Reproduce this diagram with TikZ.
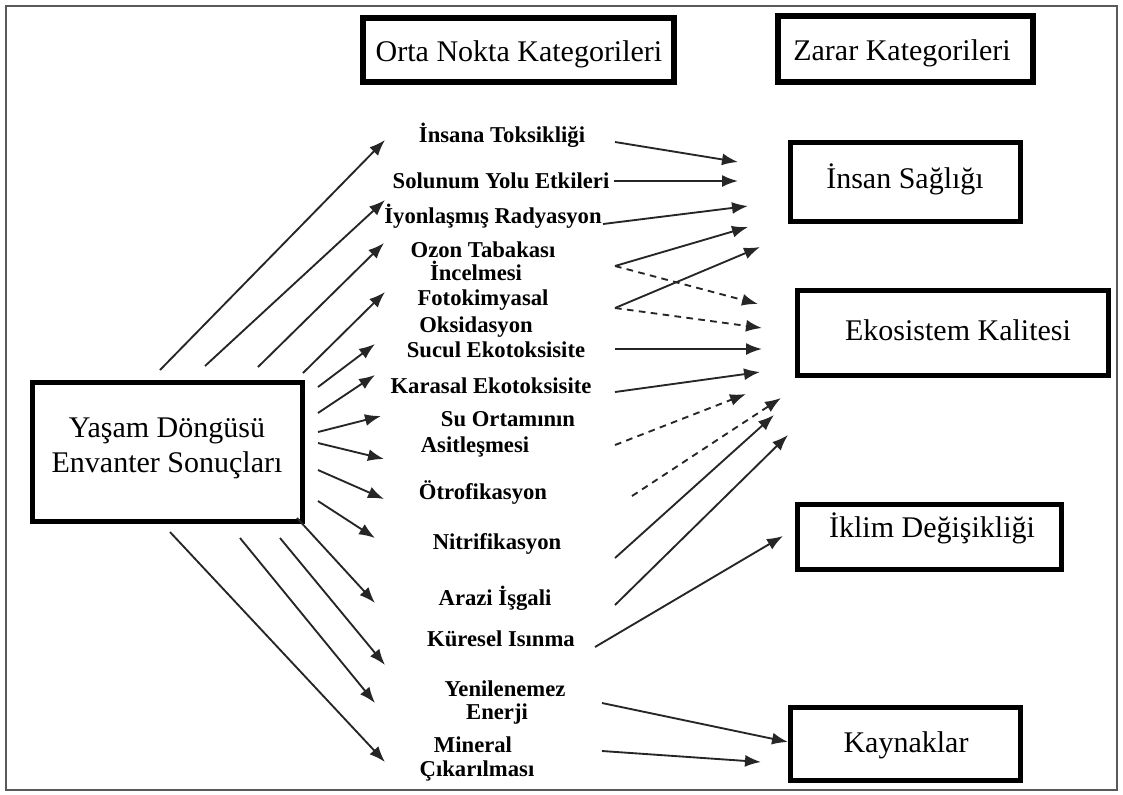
\documentclass[tikz,border=0pt]{standalone}
\usepackage{fontspec}
\setmainfont{Liberation Serif}
\usetikzlibrary{arrows.meta}
\begin{document}
\begin{tikzpicture}[x=0.75pt,y=-0.75pt,
  hbox/.style={draw=black, line width=4.5pt, rectangle, inner sep=0pt},
  dbox/.style={draw=black, line width=3.75pt, rectangle, inner sep=0pt},
  hdr/.style={anchor=base, inner sep=0pt, font=\fontsize{22.5}{26}\selectfont},
  lbl/.style={anchor=base, inner sep=0pt, font=\fontsize{17}{19}\selectfont\bfseries},
  arr/.style={draw=black!85, line width=1.4pt, -{Latex[length=12pt,width=9pt]}},
  darr/.style={arr, dash pattern=on 5pt off 4pt}
]
\useasboundingbox (0,0) rectangle (1123,794);
% outer frame
\draw[black!65, line width=1.1pt] (6,6) rectangle (1117,790);

% boxes
\node[hbox, minimum width=311*0.75pt, minimum height=64*0.75pt] (orta) at (518.5,50) {};
\node[hbox, minimum width=255*0.75pt, minimum height=66*0.75pt] (zarar) at (905.5,49) {};
\node[dbox, minimum width=230*0.75pt, minimum height=79*0.75pt] (insan) at (905.5,182) {};
\node[dbox, minimum width=311*0.75pt, minimum height=85*0.75pt] (eko) at (953,333) {};
\node[dbox, minimum width=264*0.75pt, minimum height=65*0.75pt] (iklim) at (929.5,537) {};
\node[dbox, minimum width=230*0.75pt, minimum height=73*0.75pt] (kaynak) at (905.5,744) {};
\node[dbox, minimum width=270*0.75pt, minimum height=139*0.75pt] (yasam) at (167.5,452) {};

% box texts
\node[hdr] (ortaT) at (519,61) {Orta Nokta Kategorileri};
\node[hdr] (zararT) at (902,60) {Zarar Kategorileri};
\node[hdr] (insanT) at (905,188) {İnsan Sağlığı};
\node[hdr] (ekoT) at (958,340) {Ekosistem Kalitesi};
\node[hdr] (iklimT) at (932,537) {İklim Değişikliği};
\node[hdr] (kaynakT) at (906,752) {Kaynaklar};
\node[hdr] (yasamA) at (167,437) {Yaşam Döngüsü};
\node[hdr] (yasamB) at (167,472) {Envanter Sonuçları};

% midpoint category labels
\node[lbl] (toks) at (502,142) {İnsana Toksikliği};
\node[lbl] (solu) at (501,188) {Solunum Yolu Etkileri};
\node[lbl] (iyon) at (493,223) {İyonlaşmış Radyasyon};
\node[lbl] (ozonA) at (483,257) {Ozon Tabakası};
\node[lbl] (ozonB) at (476,280) {İncelmesi};
\node[lbl] (fotoA) at (483,305) {Fotokimyasal};
\node[lbl] (fotoB) at (476,332) {Oksidasyon};
\node[lbl] (sucul) at (496,357) {Sucul Ekotoksisite};
\node[lbl] (kara) at (491,393) {Karasal Ekotoksisite};
\node[lbl] (suA) at (508,426) {Su Ortamının};
\node[lbl] (suB) at (475,452) {Asitleşmesi};
\node[lbl] (otro) at (483,499) {Ötrofikasyon};
\node[lbl] (nitr) at (497,549) {Nitrifikasyon};
\node[lbl] (arazi) at (495,605) {Arazi İşgali};
\node[lbl] (kures) at (501,646) {Küresel Isınma};
\node[lbl] (yeniA) at (505,696) {Yenilenemez};
\node[lbl] (yeniB) at (497,719) {Enerji};
\node[lbl] (minA) at (473,752) {Mineral};
\node[lbl] (minB) at (477,776) {Çıkarılması};

% arrow end points: inventory -> midpoint categories
\coordinate (s1) at (160,370);  \coordinate (e1) at (385,140);
\coordinate (s2) at (205,366);  \coordinate (e2) at (385,200);
\coordinate (s3) at (258,367);  \coordinate (e3) at (384,243);
\coordinate (s4) at (303,373);  \coordinate (e4) at (385,292);
\coordinate (s5) at (318,387);  \coordinate (e5) at (375,344);
\coordinate (s6) at (318,413);  \coordinate (e6) at (375,375);
\coordinate (s7) at (318,432);  \coordinate (e7) at (381,416);
\coordinate (s8) at (318,443);  \coordinate (e8) at (384,459);
\coordinate (s9) at (318,470);  \coordinate (e9) at (384,499);
\coordinate (s10) at (318,501); \coordinate (e10) at (375,538);
\coordinate (s11) at (297,518); \coordinate (e11) at (375,603);
\coordinate (s12) at (280,538); \coordinate (e12) at (385,665);
\coordinate (s13) at (240,538); \coordinate (e13) at (375,703);
\coordinate (s14) at (170,532); \coordinate (e14) at (385,762);

\foreach \i in {1,...,14} \draw[arr] (s\i) -- (e\i);

% arrow end points: midpoint categories -> damage categories
\coordinate (r1s) at (615,142);  \coordinate (r1e) at (738,162);
\coordinate (r2s) at (614,181);  \coordinate (r2e) at (738,181);
\coordinate (r3s) at (603,224);  \coordinate (r3e) at (748,206);
\coordinate (ozo) at (615,266);  \coordinate (r4e) at (748,227);
\coordinate (fot) at (615,308);  \coordinate (r5e) at (760,247);
\coordinate (r6e) at (758,304);
\coordinate (r7e) at (762,328);
\coordinate (r8s) at (615,349);  \coordinate (r8e) at (762,349);
\coordinate (r9s) at (615,392);  \coordinate (r9e) at (760,372);
\coordinate (r10s) at (615,445); \coordinate (r10e) at (746,394);
\coordinate (r11s) at (632,496); \coordinate (r11e) at (781,398);
\coordinate (r12s) at (615,558); \coordinate (r12e) at (774,415);
\coordinate (r13s) at (615,605); \coordinate (r13e) at (788,435);
\coordinate (r14s) at (595,647); \coordinate (r14e) at (783,536);
\coordinate (r15s) at (602,703); \coordinate (r15e) at (788,742);
\coordinate (r16s) at (602,751); \coordinate (r16e) at (761,762);

\draw[arr] (r1s) -- (r1e);
\draw[arr] (r2s) -- (r2e);
\draw[arr] (r3s) -- (r3e);
\draw[arr] (ozo) -- (r4e);
\draw[arr] (fot) -- (r5e);
\draw[darr] (ozo) -- (r6e);
\draw[darr] (fot) -- (r7e);
\draw[arr] (r8s) -- (r8e);
\draw[arr] (r9s) -- (r9e);
\draw[darr] (r10s) -- (r10e);
\draw[darr] (r11s) -- (r11e);
\draw[arr] (r12s) -- (r12e);
\draw[arr] (r13s) -- (r13e);
\draw[arr] (r14s) -- (r14e);
\draw[arr] (r15s) -- (r15e);
\draw[arr] (r16s) -- (r16e);
\end{tikzpicture}
\end{document}
